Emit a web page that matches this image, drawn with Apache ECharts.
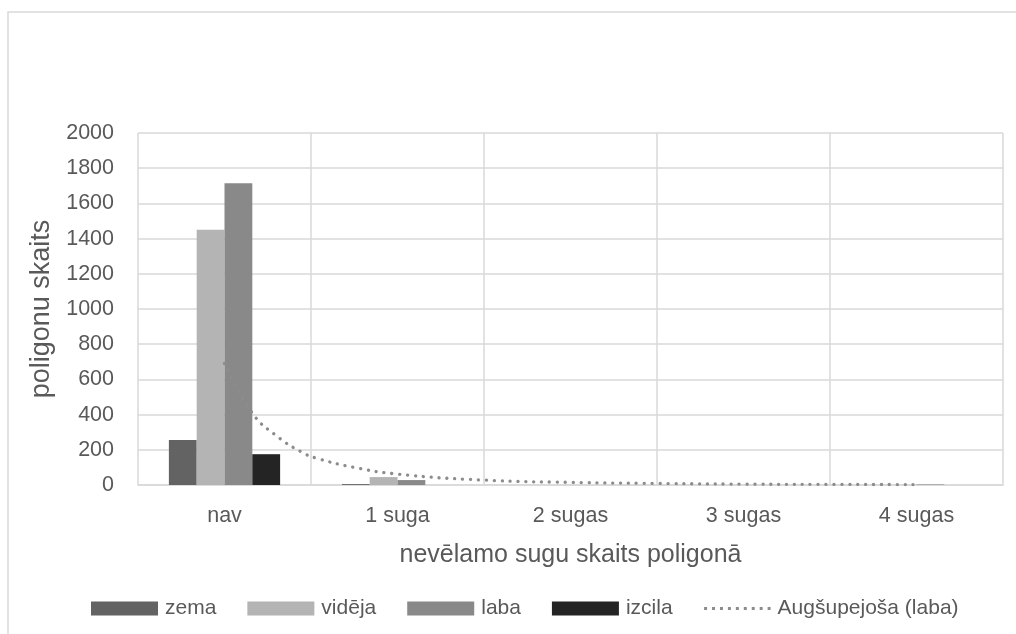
<!DOCTYPE html>
<html>
<head>
<meta charset="utf-8">
<script src="https://cdn.jsdelivr.net/npm/echarts@6/dist/echarts.min.js"></script>
<style>
  html, body { margin: 0; padding: 0; background: #fff; }
  #chart { width: 1016px; height: 634px; }
</style>
</head>
<body>
<div id="chart"></div>
<script>
// kategorijas un vērtības
const categories = ['nav', '1 suga', '2 sugas', '3 sugas', '4 sugas']
const zema = [255, 5, 0, 0, 0]
const videja = [1450, 45, 0, 0, 0]
const laba = [1715, 28, 0, 0, 3]
const izcila = [175, 0, 0, 0, 0]

// tendences līnija (nolasīta no attēla), x = kategorijas numurs
const trendX = [1, 1.16, 1.3, 1.45, 1.54, 1.75, 2, 2.5, 3, 3.5, 4, 4.5, 5]
const trendY = [690, 410, 280, 185, 150, 100, 62, 28, 15, 9, 5, 3.5, 2.5]

const font = 'Liberation Sans'
const textColor = '#595959'
const gridColor = '#d9d9d9'

// punktēta leģendas ikona
let dots = 'path://M0 0L0 0.01M67 14L67 13.99'
for (let i = 0; i < 9; i++) {
  dots += 'M' + (i * 8 + 0.5) + ' 5.5h3v3h-3z'
}

let myChart = echarts.init(document.getElementById('chart'), null, { renderer: 'canvas' })

let option = {
  animation: false,
  textStyle: { fontFamily: font, color: textColor },
  graphic: [
    {
      type: 'rect',
      shape: { x: 8, y: 12, width: 1100, height: 700 },
      style: { fill: 'none', stroke: gridColor, lineWidth: 1.5 },
      silent: true
    }
  ],
  grid: { left: 138, right: 13, top: 133, bottom: 149 },
  legend: {
    left: 86,
    top: 593,
    itemWidth: 67,
    itemHeight: 14,
    itemGap: 31,
    textStyle: { fontFamily: font, fontSize: 21, color: textColor, padding: [0, 0, 0, 2] },
    data: [
      { name: 'zema', icon: 'rect' },
      { name: 'vidēja', icon: 'rect' },
      { name: 'laba', icon: 'rect' },
      { name: 'izcila', icon: 'rect' },
      { name: 'Augšupejoša (laba)', icon: dots, itemStyle: { color: '#8c8c8c', borderWidth: 0 }, lineStyle: { width: 0 } }
    ]
  },
  xAxis: [
    {
      type: 'category',
      data: categories,
      name: 'nevēlamo sugu skaits poligonā',
      nameLocation: 'middle',
      nameGap: 58,
      nameTextStyle: { fontFamily: font, fontSize: 25, color: textColor },
      axisLine: { show: true, lineStyle: { color: gridColor, width: 1.5 } },
      axisTick: { show: false },
      axisLabel: { fontFamily: font, fontSize: 21.5, color: textColor, margin: 20 },
      splitLine: { show: true, lineStyle: { color: gridColor, width: 1.5 } }
    },
    {
      type: 'value',
      min: 0.5,
      max: 5.5,
      show: false
    }
  ],
  yAxis: {
    type: 'value',
    min: 0,
    max: 2000,
    interval: 200,
    name: 'poligonu skaits',
    nameLocation: 'middle',
    nameGap: 80,
    nameTextStyle: { fontFamily: font, fontSize: 27, color: textColor },
    axisLine: { show: false },
    axisTick: { show: false },
    axisLabel: { fontFamily: font, fontSize: 21.5, color: textColor, margin: 24, formatter: v => String(v) },
    splitLine: { show: true, lineStyle: { color: gridColor, width: 1.5 } }
  },
  series: [
    { name: 'zema', type: 'bar', data: zema, itemStyle: { color: '#636363' }, barGap: '0%', barCategoryGap: '35.7%' },
    { name: 'vidēja', type: 'bar', data: videja, itemStyle: { color: '#b4b4b4' } },
    { name: 'laba', type: 'bar', data: laba, itemStyle: { color: '#898989' } },
    { name: 'izcila', type: 'bar', data: izcila, itemStyle: { color: '#242424' } },
    {
      name: 'Augšupejoša (laba)',
      type: 'line',
      xAxisIndex: 1,
      data: trendX.map((x, i) => [x, trendY[i]]),
      smooth: true,
      symbol: 'none',
      lineStyle: { color: '#8c8c8c', width: 3.3, type: [0.1, 7.8], cap: 'round' },
      itemStyle: { color: '#8c8c8c' }
    }
  ]
}
myChart.setOption(option)
</script>
</body>
</html>
